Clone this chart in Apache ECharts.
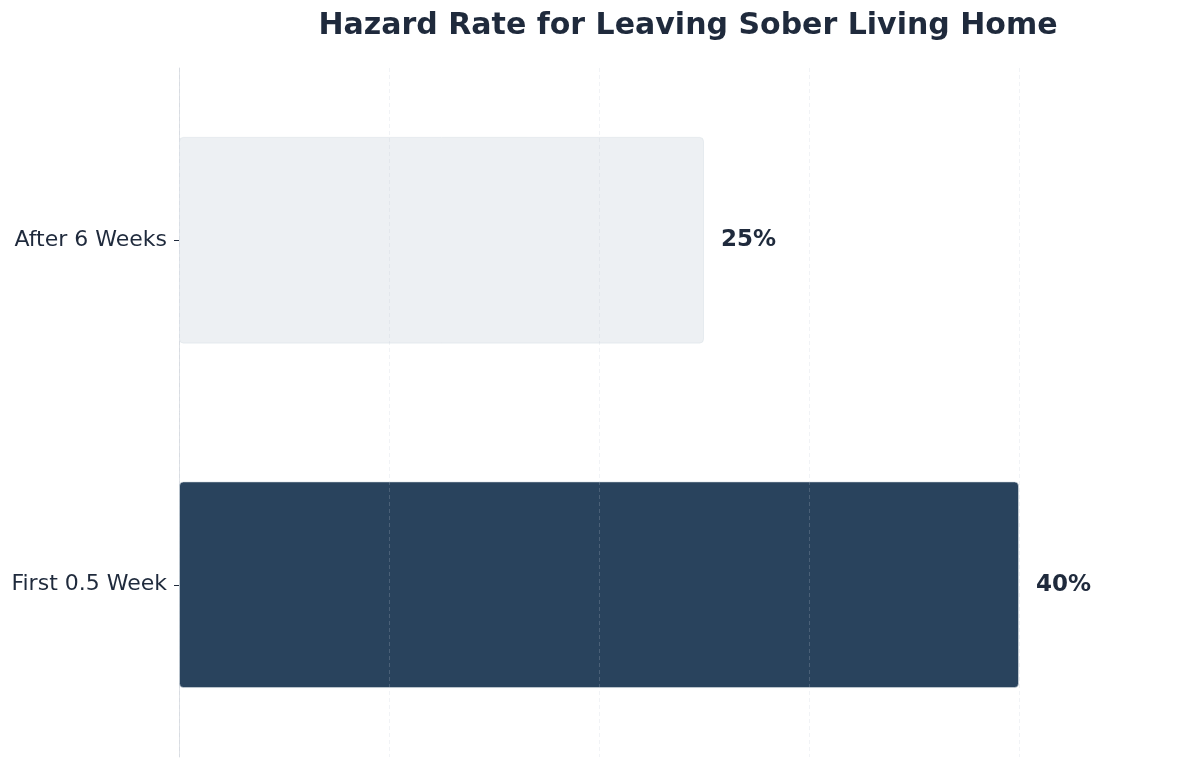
<!DOCTYPE html>
<html>
<head>
<meta charset="utf-8">
<script src="https://cdn.jsdelivr.net/npm/echarts@6/dist/echarts.min.js"></script>
<style>html,body{margin:0;padding:0;background:#fff;}#c{width:1200px;height:768px;}</style>
</head>
<body>
<div id="c"></div>
<script>
var categories = ['First 0.5 Week', 'After 6 Weeks'];
var values = [40, 25];
var barColors = ['#29435d', '#edf0f3'];
var titleText = 'Hazard Rate for Leaving Sober Living Home';

var chart = echarts.init(document.getElementById('c'));
chart.setOption({
  backgroundColor: '#ffffff',
  animation: false,
  title: {
    text: titleText,
    left: 683,
    textAlign: 'center',
    top: 6,
    textStyle: { fontFamily: 'DejaVu Sans', fontSize: 30, fontWeight: 'bold', color: '#1f2a3c' }
  },
  grid: { left: 179, right: 181, top: 68, bottom: 11, containLabel: false },
  xAxis: {
    type: 'value',
    min: 0,
    max: 40,
    interval: 10,
    z: 5,
    axisLine: { show: false },
    axisTick: { show: false },
    axisLabel: { show: false },
    splitLine: { show: true, lineStyle: { color: 'rgba(190,202,216,0.22)', type: [4, 3], width: 1 } }
  },
  yAxis: {
    type: 'category',
    data: categories,
    axisLine: { show: true, lineStyle: { color: '#dfe2e6', width: 1 } },
    axisTick: { show: true, alignWithLabel: true, length: 5, lineStyle: { color: '#1f2a3c' } },
    axisLabel: { fontFamily: 'DejaVu Sans', fontSize: 22, color: '#1f2a3c', margin: 12 }
  },
  series: [{
    type: 'bar',
    barWidth: '60%',
    data: values.map(function (v, i) {
      return { value: v, itemStyle: { color: barColors[i] } };
    }),
    itemStyle: { borderRadius: 4, borderColor: 'rgba(220,226,232,0.6)', borderWidth: 1 },
    label: {
      show: true,
      position: 'right',
      distance: 17,
      formatter: function (p) { return p.value + '%'; },
      fontFamily: 'DejaVu Sans',
      fontSize: 23,
      fontWeight: 'bold',
      color: '#1f2a3c'
    }
  }]
});
</script>
</body>
</html>
